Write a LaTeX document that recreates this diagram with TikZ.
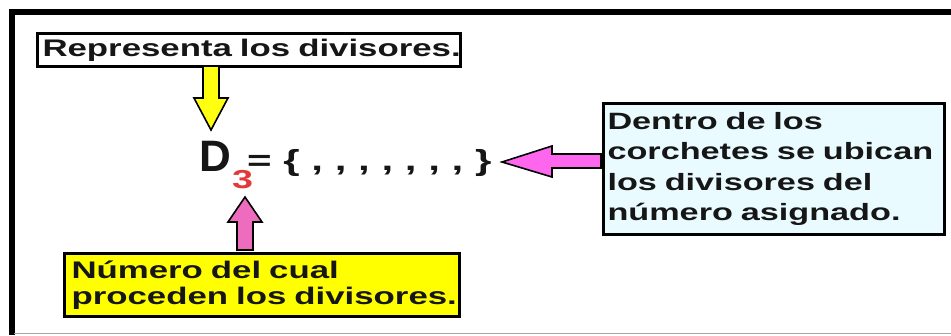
\documentclass[tikz,border=0pt]{standalone}
\usepackage{fontspec}
\usetikzlibrary{calc}
\setmainfont{Liberation Sans}
\newfontfamily\widefont[FakeStretch=1.45]{Liberation Sans}
\definecolor{boxyellow}{HTML}{FFFF00}
\definecolor{boxcyan}{HTML}{E9FBFF}
\definecolor{arrowyellow}{HTML}{FFFF10}
\definecolor{pinkup}{HTML}{EE6CBE}
\definecolor{pinkleft}{HTML}{FF66EE}
\definecolor{subred}{HTML}{E23A3A}
\definecolor{ink}{HTML}{161616}
\tikzset{
  labelbox/.style={draw=black, line width=3pt, anchor=north west, inner xsep=5pt,
    inner ysep=0pt, align=left, text=ink, font=\widefont\bfseries\fontsize{24}{26}\selectfont},
  blockarrow/.style={draw=black, line width=1.6pt, line join=miter}
}
\begin{document}
\begin{tikzpicture}[x=1pt, y=-1pt]
  \useasboundingbox (0,0) rectangle (951,335);
  \fill[white] (0,0) rectangle (951,335);
  % frame
  \draw[line width=6pt] (11.5,335) -- (11.5,11.5) -- (951,11.5);
  \draw[line width=1.5pt, gray!70] (14,333.5) -- (951,333.5);

  % labelled boxes (each line kept whole in an \mbox)
  \node[labelbox, fill=white, minimum width=423pt, minimum height=33pt, text width=413pt]
    (rep) at (36,32) {\mbox{Representa los divisores.}};
  \node[labelbox, fill=boxyellow, minimum width=395pt, minimum height=63pt, text width=381pt,
    inner xsep=7pt] (num) at (63,252)
    {\mbox{Número del cual}\\\mbox{proceden los divisores.}};
  \node[labelbox, fill=boxcyan, minimum width=341pt, minimum height=131pt, text width=333pt,
    inner xsep=4pt, font=\widefont\bfseries\fontsize{23.6}{30.5}\selectfont] (den) at (602,102)
    {\mbox{Dentro de los}\\\mbox{corchetes se ubican}\\\mbox{los divisores del}\\\mbox{número asignado.}};

  % the set notation
  \node[anchor=base west, inner sep=0pt, text=ink, font=\bfseries\fontsize{44}{44}\selectfont]
    (dd) at (199,171) {D};
  \node[anchor=base west, inner sep=0pt, text=subred, font=\widefont\bfseries\fontsize{26}{26}\selectfont]
    (sub) at (232,188) {3};
  \node[anchor=base west, inner sep=0pt, text=ink, font=\widefont\bfseries\fontsize{29}{29}\selectfont]
    (set) at (247,170) {= \{ , , , , , , , \}};

  % block arrows
  \coordinate (ya) at (211,66);
  \draw[blockarrow, fill=arrowyellow]
    ($(ya)+(-8,0)$) -- ($(ya)+(8,0)$) -- ($(ya)+(8,32)$) -- ($(ya)+(17,32)$)
    -- ($(ya)+(0,64)$) -- ($(ya)+(-17,32)$) -- ($(ya)+(-8,32)$) -- cycle;
  \coordinate (pa) at (245,250);
  \draw[blockarrow, fill=pinkup]
    ($(pa)+(-8,0)$) -- ($(pa)+(8,0)$) -- ($(pa)+(8,-28)$) -- ($(pa)+(17,-28)$)
    -- ($(pa)+(0,-53)$) -- ($(pa)+(-17,-28)$) -- ($(pa)+(-8,-28)$) -- cycle;
  \coordinate (la) at (601,161);
  \draw[blockarrow, fill=pinkleft]
    ($(la)+(0,-7)$) -- ($(la)+(0,7)$) -- ($(la)+(-49,7)$) -- ($(la)+(-49,16)$)
    -- ($(la)+(-99,1)$) -- ($(la)+(-49,-15)$) -- ($(la)+(-49,-7)$) -- cycle;
\end{tikzpicture}
\end{document}
